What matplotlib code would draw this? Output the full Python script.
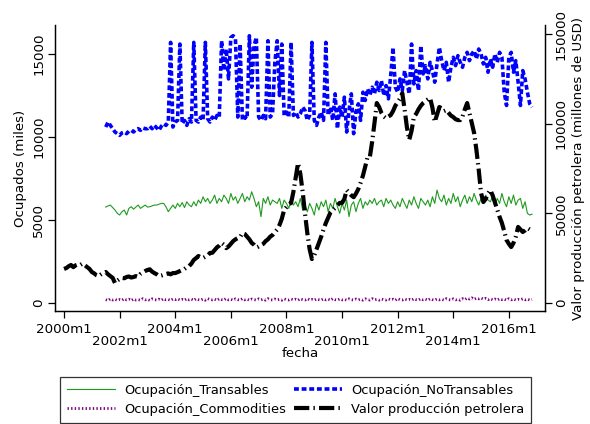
import numpy as np
import matplotlib
matplotlib.use("Agg")
import matplotlib.pyplot as plt

plt.rcParams["font.family"] = ["DejaVu Sans"]
plt.rcParams["lines.scale_dashes"] = False

# ---------------------------------------------------------------
# Datos (índice mensual: 0 = 2000m1)
# ---------------------------------------------------------------
inicio_ocup = 18      # 2001m7
inicio_petro = 0      # 2000m1

ocup_transables = [
    5780, 5850, 5900, 5750, 5600, 5400,
    5300, 5500, 5600, 5300, 5700, 5800, 5650, 5780, 5900, 5700, 5800, 5900,
    5780, 5800, 5850, 5900, 5900, 5950, 6000, 6000, 5800, 5500, 5700, 5900,
    5700, 6000, 5800, 6050, 5750, 6100, 5900, 5800, 6100, 5850, 6200, 6000,
    6400, 6100, 6300, 6000, 6200, 6500, 6000, 6300, 6100, 6500, 6300, 6000,
    6600, 6200, 6400, 6000, 6300, 6600, 6100, 6400, 6200, 6700, 6300, 5800,
    6100, 5200, 6300, 6000, 6400, 5900, 6200, 6100, 6000, 6300, 5700, 6200,
    6000, 5700, 6200, 5900, 6100, 5800, 6300, 5600, 5900, 5500, 6000, 5700,
    5300, 6000, 5600, 6100, 5800, 6200, 5500, 6000, 5700, 6300, 5800, 5400,
    6000, 5600, 6200, 5200, 5900, 6100, 5500, 6000, 6300, 5700, 6100, 5900,
    6200, 6000, 6300, 5900, 6100, 6200, 5800, 6300, 6000, 6200, 5900, 5700,
    6100, 5800, 6300, 6000, 5700, 6200, 5900, 6400, 6000, 5700, 6300, 6100,
    5900, 6200, 5800, 6400, 6000, 6800, 6300, 6100, 6500, 5900, 6300, 6000,
    6600, 6100, 6400, 5800, 6200, 6500, 6000, 6400, 6100, 6600, 6200, 5900,
    6300, 6000, 6500, 6200, 6100, 6400, 5900, 6300, 6000, 6600, 6100, 5800,
    6400, 6000, 6500, 5900, 6200, 6300, 5700, 6100, 5400, 5300, 5350,
]

ocup_notransables = [
    10600, 10900, 10700, 10500, 10300, 10200,
    10100, 10250, 10300, 10200, 10350, 10400, 10300, 10450, 10500, 10400, 10550, 10500,
    10500, 10650, 10500, 10700, 10550, 10400, 10650, 10800, 10700, 10900, 15700, 10600,
    10900, 11000, 15600, 10800, 11000, 10700, 11100, 10900, 15700, 11000, 10900, 11200,
    11000, 15700, 11100, 10900, 11200, 11000, 11300, 11200, 15800, 14000, 15300, 13500,
    16000, 16100, 15900, 11200, 15600, 11000, 11200, 11100, 16100, 13000, 15500, 16000,
    11200, 11000, 11300, 11100, 15800, 11200, 11400, 14500, 15800, 12500, 15600, 11300,
    11500, 11200, 15700, 11300, 11500, 11200, 11400, 11800, 11600, 11000, 11300, 15700,
    11000, 10700, 11200, 11500, 11000, 15700, 11300, 11800, 11000, 12600, 10500, 11800,
    11200, 12400, 10300, 11600, 12600, 10200, 11500, 12000, 11000, 12700, 12200, 12900,
    12500, 13000, 12600, 13300, 12800, 13400, 12500, 13100, 12300, 13700, 15400, 13000,
    12700, 13500, 12800, 14000, 13300, 12600, 15600, 13200, 14000, 12800, 15500, 13800,
    14300, 13500, 14500, 14000, 13300, 14400, 15400, 14600, 14000, 14500, 13300, 14200,
    14800, 14300, 14900, 14500, 14200, 14800, 15100, 14600, 15000, 15200, 14700, 15300,
    15000, 14400, 14800, 13900, 14700, 14200, 15000, 14500, 15100, 14800, 12700, 11900,
    14800, 15100, 13900, 14600, 13300, 11900, 14000, 13500, 12700, 12000, 11800,
]

ocup_commodities = [
    200, 150, 250, 180, 220, 160,
    210, 170, 260, 190, 230, 150, 240, 180, 200, 170, 260, 190,
    220, 160, 250, 200, 180, 230, 170, 260, 190, 210, 160, 240,
    200, 250, 180, 220, 170, 260, 190, 230, 160, 250, 200, 180,
    240, 170, 260, 210, 190, 230, 160, 250, 200, 180, 270, 190,
    220, 170, 250, 200, 180, 260, 190, 230, 170, 240, 200, 180,
    250, 190, 230, 170, 260, 200, 180, 240, 190, 220, 170, 250,
    200, 180, 240, 190, 230, 170, 250, 200, 180, 260, 190, 220,
    170, 240, 200, 180, 250, 190, 230, 170, 260, 200, 180, 240,
    190, 220, 170, 250, 200, 180, 240, 190, 230, 170, 250, 200,
    180, 260, 190, 220, 170, 240, 200, 180, 250, 190, 230, 170,
    260, 200, 180, 240, 190, 220, 170, 250, 200, 180, 260, 190,
    230, 170, 250, 200, 180, 240, 190, 220, 170, 260, 200, 180,
    250, 190, 230, 170, 260, 200, 300, 240, 310, 220, 290, 250,
    300, 230, 280, 200, 260, 190, 240, 180, 250, 200, 230, 170,
    260, 190, 240, 180, 220, 200, 250, 190, 230, 180, 210,
]

valor_petrolera = [
    19000, 19500, 20500, 21200, 20000, 21000, 21500, 21200, 22000, 21000, 20000, 19000,
    17300, 16500, 15500, 15000, 16000, 16800, 17300, 16000, 15000, 14000, 11100, 12500,
    13400, 14000, 13800, 14500, 14800, 14200, 14500, 15000, 14600, 16200, 17000, 17800,
    18400, 18800, 17500, 16700, 16000, 15000, 15300, 15800, 16200, 16500, 16000, 16700,
    16700, 17200, 17800, 18400, 19000, 20000, 20600, 22000, 24000, 25000, 26200, 25500,
    25100, 25800, 26500, 27900, 28000, 29500, 31000, 32000, 33500, 32500, 30600, 31500,
    33000, 34500, 35500, 36200, 36800, 39000, 38500, 37000, 35500, 33500, 32500, 31000,
    31500, 32300, 33000, 34500, 35500, 37000, 37900, 39500, 41000, 43500, 47000, 51900,
    53500, 55000, 55800, 62000, 70000, 78000, 72000, 62000, 50000, 39000, 30000, 24500,
    26500, 30000, 33500, 37000, 41000, 44600, 47500, 50500, 51900, 53000, 54500, 55800,
    55800, 58000, 63000, 61500, 60000, 59000, 61000, 63500, 67000, 71000, 76000, 81400,
    81400, 90000, 100400, 111500, 109300, 106000, 104000, 103000, 104000, 104800, 107000, 110000,
    112000, 114000, 117000, 108000, 98000, 91000, 96000, 103700, 105500, 108000, 110000, 111500,
    112500, 113500, 114300, 109000, 101000, 105000, 109300, 108500, 107000, 107600, 106000, 104500,
    103700, 102500, 102000, 102000, 104000, 108000, 111500, 106000, 100400, 94800, 85300, 74200,
    61300, 56300, 58000, 61000, 63000, 60000, 56000, 51900, 48000, 44600, 40000, 35100,
    33000, 31200, 33500, 37000, 42400, 41000, 39600, 40500, 41800, 41000, 39600,
]

ticks_x = [0, 24, 48, 72, 96, 120, 144, 168, 192]
etiquetas_x = ["2000m1", "2002m1", "2004m1", "2006m1", "2008m1",
               "2010m1", "2012m1", "2014m1", "2016m1"]

mes_ocup = np.arange(inicio_ocup, inicio_ocup + len(ocup_transables))
mes_petro = np.arange(inicio_petro, inicio_petro + len(valor_petrolera))

# ---------------------------------------------------------------
# Figura
# ---------------------------------------------------------------
W, H = 590, 424
fig = plt.figure(figsize=(W / 100, H / 100), dpi=100)
ax = fig.add_axes([55 / W, 1 - 311 / H, 490 / W, 286 / H])
ax2 = ax.twinx()

l1, = ax.plot(mes_ocup, ocup_transables, color="#1f9a1f", lw=0.8,
              label="Ocupación_Transables")
l2, = ax.plot(mes_ocup, ocup_notransables, color="#0000ff", lw=2.6,
              dashes=(3.5, 2.0), label="Ocupación_NoTransables")
l3, = ax.plot(mes_ocup, ocup_commodities, color="#800080", lw=2.0,
              dashes=(1.0, 1.6), label="Ocupación_Commodities")
l4, = ax2.plot(mes_petro, valor_petrolera, color="black", lw=3.0,
               dashes=(11, 3, 1, 3), label="Valor producción petrolera")

ax.set_xlim(-3.9, 207.6)
ax.set_ylim(-482, 16747)
ax2.set_ylim(-4461, 155020)

fs = 9.6
ax.set_yticks([0, 5000, 10000, 15000])
ax2.set_yticks([0, 50000, 100000, 150000])
ax.set_xticks(ticks_x)
etiq = [e if i % 2 == 0 else "\n" + e for i, e in enumerate(etiquetas_x)]
ax.set_xticklabels(etiq)

for a in (ax, ax2):
    a.spines["top"].set_visible(False)
    for s in a.spines.values():
        s.set_linewidth(0.9)
    a.tick_params(direction="out", length=5, width=0.9, labelsize=fs)

for t in ax.get_xticklabels():
    t.set_linespacing(0.95)
ax.tick_params(axis="y", pad=2)
ax2.tick_params(axis="y", pad=2)
for t in ax.get_yticklabels() + ax2.get_yticklabels():
    t.set_rotation(90)
    t.set_va("center")

ax.set_ylabel("Ocupados (miles)", fontsize=fs, labelpad=4)
ax2.set_ylabel("Valor producción petrolera (millones de USD)", fontsize=fs,
               labelpad=3)
ax.set_xlabel("fecha", fontsize=fs, labelpad=-1)

leg = fig.legend([l1, l3, l2, l4],
                 [h.get_label() for h in (l1, l3, l2, l4)],
                 ncol=2, loc="upper left",
                 bbox_to_anchor=(60 / W, 1 - 377 / H),
                 fontsize=9.4, frameon=True, fancybox=False,
                 handlelength=3.7, handletextpad=0.7, columnspacing=0.6,
                 borderpad=0.5, labelspacing=0.5, borderaxespad=0)
leg.get_frame().set_edgecolor("black")
leg.get_frame().set_linewidth(0.9)

fig.savefig("out.png", dpi=100)
